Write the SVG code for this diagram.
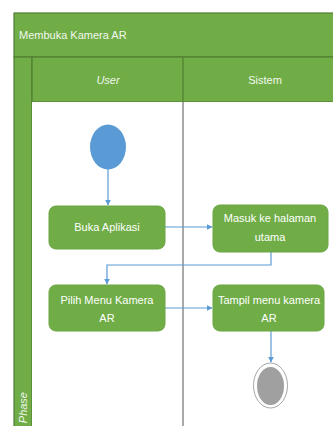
<svg xmlns="http://www.w3.org/2000/svg" width="333" height="426" viewBox="0 0 333 426">
<defs>
<style>
.band{fill:#70AD47;stroke:#507E32;stroke-width:1.2}
.hdr{font-family:"Liberation Sans",Arial,sans-serif;font-size:11px;fill:#F2F7EE}
.act rect{fill:#70AD47;stroke:#6AA443;stroke-width:1}
.act text{font-family:"Liberation Sans",Arial,sans-serif;font-size:11px;fill:#FFFFFF;text-anchor:middle}
.edge{fill:none;stroke:#5B9BD5;stroke-width:1.2}
</style>
<marker id="arr" viewBox="0 0 10 10" refX="9" refY="5" markerWidth="6" markerHeight="6" orient="auto" markerUnits="userSpaceOnUse">
<path d="M0,0 L10,5 L0,10 z" fill="#5B9BD5"/>
</marker>
</defs>
<rect x="0" y="0" width="333" height="426" fill="#FFFFFF"/>
<g id="pool">
<rect class="band" x="14" y="13" width="330" height="44"/>
<text class="hdr" x="19" y="39">Membuka Kamera AR</text>
<rect class="band" x="14" y="57" width="18" height="380"/>
<rect class="band" x="32" y="57" width="312" height="45"/>
<rect x="32" y="102" width="312" height="330" fill="#FFFFFF"/>
<line x1="183" y1="57" x2="183" y2="102" stroke="#507E32" stroke-width="1.2"/>
<line x1="183" y1="102" x2="183" y2="426" stroke="#555555" stroke-width="1"/>
<text class="hdr" x="108" y="84" text-anchor="middle" font-style="italic">User</text>
<text class="hdr" x="265" y="84" text-anchor="middle">Sistem</text>
<text class="hdr" transform="translate(27,392) rotate(-90)" font-style="italic" text-anchor="end">Phase</text>
</g>
<g id="connectors">
<path class="edge" d="M108,169 V205" marker-end="url(#arr)"/>
<path class="edge" d="M165,227 H212" marker-end="url(#arr)"/>
<path class="edge" d="M271,252 V265 H107 V284" marker-end="url(#arr)"/>
<path class="edge" d="M165,308 H212" marker-end="url(#arr)"/>
<path class="edge" d="M271,331 V362" marker-end="url(#arr)"/>
</g>
<g id="start">
<ellipse cx="108" cy="147" rx="18" ry="22.5" fill="#5B9BD5"/>
</g>
<g id="buka" class="act">
<rect x="49" y="206" width="116" height="43" rx="7"/>
<text x="107" y="231">Buka Aplikasi</text>
</g>
<g id="masuk" class="act">
<rect x="213" y="205" width="115" height="47" rx="7"/>
<text x="270" y="222">Masuk ke halaman</text>
<text x="270" y="241">utama</text>
</g>
<g id="pilih" class="act">
<rect x="49" y="285" width="116" height="46" rx="7"/>
<text x="107" y="304">Pilih Menu Kamera</text>
<text x="107" y="322">AR</text>
</g>
<g id="tampil" class="act">
<rect x="213" y="285" width="111" height="46" rx="7"/>
<text x="269" y="304">Tampil menu kamera</text>
<text x="269" y="322">AR</text>
</g>
<g id="end">
<ellipse cx="270.5" cy="385.5" rx="17" ry="22.5" fill="#FFFFFF" stroke="#A6A6A6" stroke-width="1"/>
<ellipse cx="270.5" cy="386" rx="13.5" ry="19" fill="#A0A0A0"/>
</g>
</svg>
